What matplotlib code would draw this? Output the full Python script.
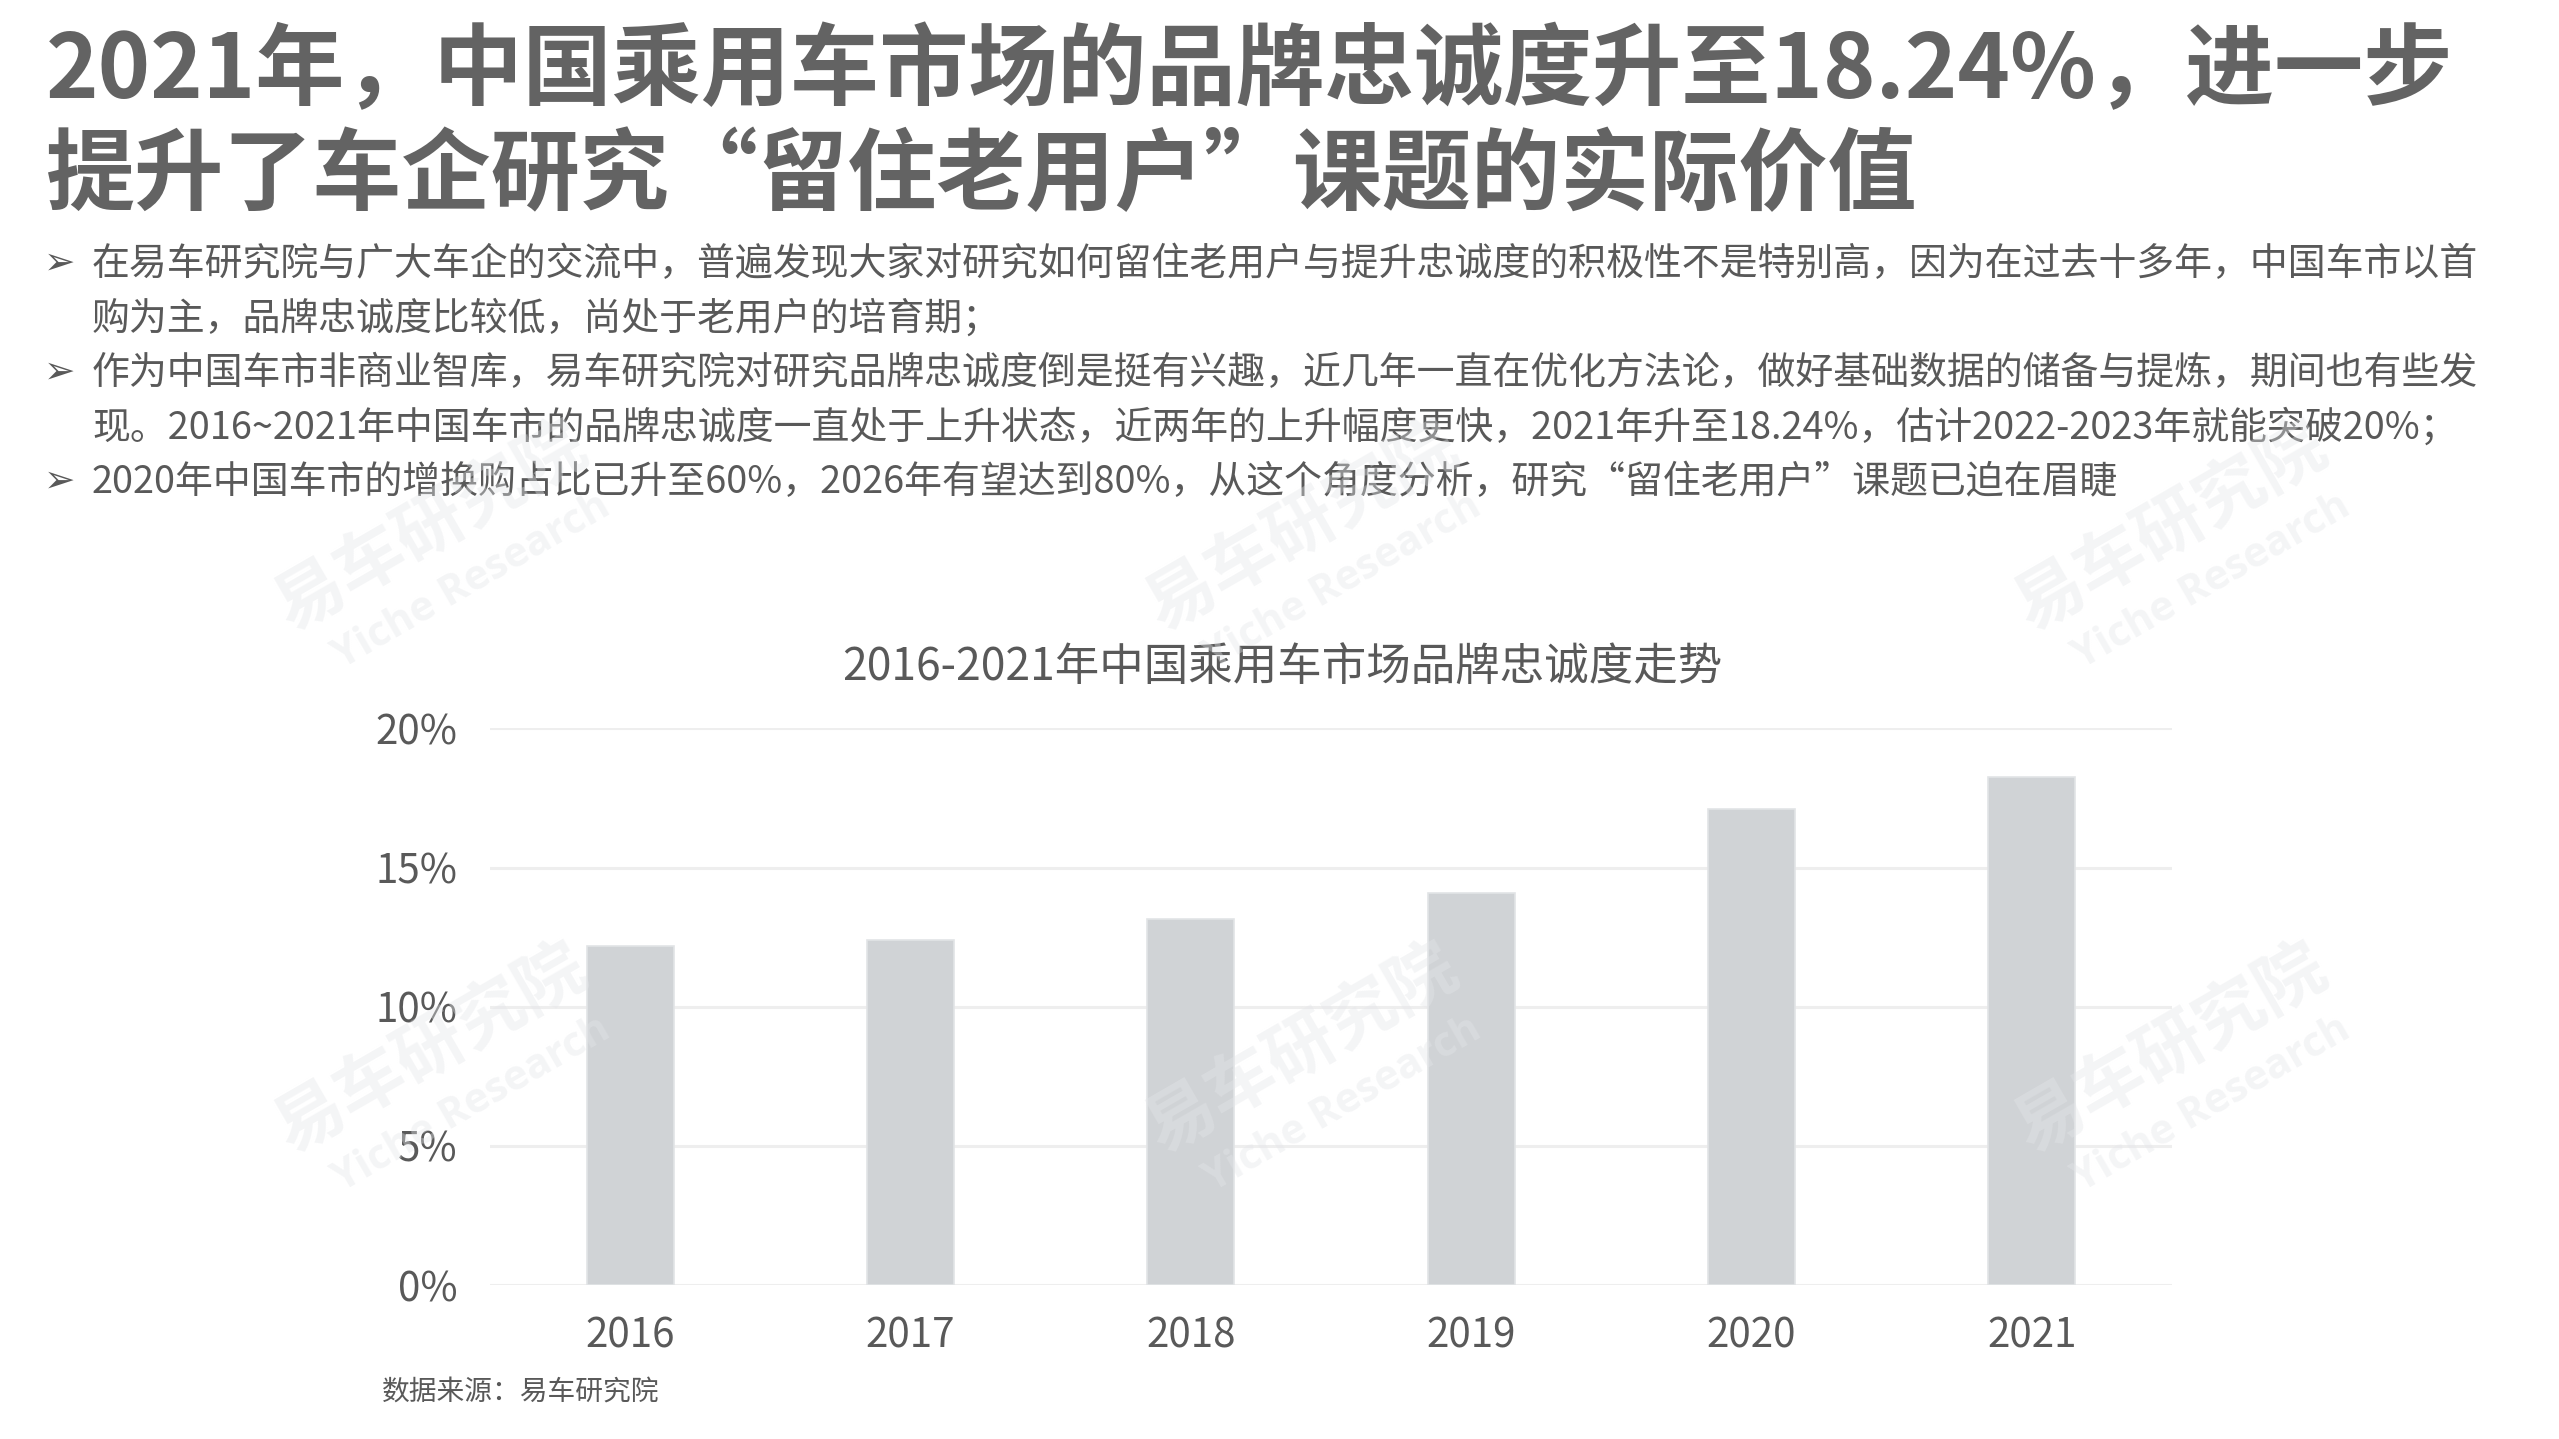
import matplotlib
matplotlib.use("Agg")
import matplotlib.pyplot as plt

plt.rcParams['font.family'] = ['Noto Sans CJK SC', 'DejaVu Sans']

# ---------------- data ----------------
years = ["2016", "2017", "2018", "2019", "2020", "2021"]
loyalty = [12.17, 12.4, 13.14, 14.1, 17.1, 18.24]
yticks = [0, 5, 10, 15, 20]
ytick_labels = ["0%", "5%", "10%", "15%", "20%"]

title_lines = [
    "2021年，中国乘用车市场的品牌忠诚度升至18.24%，进一步",
    "提升了车企研究“留住老用户”课题的实际价值",
]
bullet_lines = [
    (True, "在易车研究院与广大车企的交流中，普遍发现大家对研究如何留住老用户与提升忠诚度的积极性不是特别高，因为在过去十多年，中国车市以首"),
    (False, "购为主，品牌忠诚度比较低，尚处于老用户的培育期；"),
    (True, "作为中国车市非商业智库，易车研究院对研究品牌忠诚度倒是挺有兴趣，近几年一直在优化方法论，做好基础数据的储备与提炼，期间也有些发"),
    (False, "现。2016~2021年中国车市的品牌忠诚度一直处于上升状态，近两年的上升幅度更快，2021年升至18.24%，估计2022-2023年就能突破20%；"),
    (True, "2020年中国车市的增换购占比已升至60%，2026年有望达到80%，从这个角度分析，研究“留住老用户”课题已迫在眉睫"),
]
chart_title = "2016-2021年中国乘用车市场品牌忠诚度走势"
source = "数据来源：易车研究院"
wm_cn = "易车研究院"
wm_en = "Yiche Research"

# ---------------- figure ----------------
W, H = 2559, 1439
fig = plt.figure(figsize=(W / 100, H / 100), dpi=100)
fig.patch.set_facecolor("white")

def fx(px):
    return px / W

def fy(py):
    return 1 - py / H

text_gray = "#595959"

# Title
title_baselines = [98, 203]
for line, yb in zip(title_lines, title_baselines):
    fig.text(fx(46), fy(yb), line, fontsize=64.2, fontweight="bold",
             color="#636363", ha="left", va="baseline")

# Bullets
for i, (has_arrow, line) in enumerate(bullet_lines):
    yb = 275 + i * 54.5
    if has_arrow:
        fig.text(fx(44), fy(yb - 1), "➢", fontsize=27, color=text_gray,
                 family="DejaVu Sans", ha="left", va="baseline")
    fig.text(fx(92), fy(yb), line, fontsize=27.3, color=text_gray,
             ha="left", va="baseline")

# Chart title
fig.text(fx(1282), fy(668), chart_title, fontsize=32, color=text_gray,
         ha="center", va="center")

# Source
fig.text(fx(382), fy(1392), source, fontsize=20, color=text_gray,
         ha="left", va="center")

# ---------------- axes ----------------
ax_left, ax_right = 490, 2172
ax_top, ax_bottom = 728.5, 1285
ax = fig.add_axes([fx(ax_left), fy(ax_bottom), (ax_right - ax_left) / W,
                   (ax_bottom - ax_top) / H])
ax.set_facecolor("none")
x = list(range(len(years)))
ax.bar(x, loyalty, width=0.31, color="#d0d3d6", edgecolor="#e2e4e6",
       linewidth=1.2, zorder=2)
ax.set_xlim(-0.5, 5.5)
ax.set_ylim(0, 20)
ax.set_yticks(yticks)
ax.set_yticklabels(ytick_labels)
ax.set_xticks(x)
ax.set_xticklabels(years)
ax.grid(axis="y", color="#eeeeee", linewidth=2.2, zorder=0)
ax.set_axisbelow(True)
for s in ax.spines.values():
    s.set_visible(False)
ax.tick_params(axis="both", length=0, labelsize=29, labelcolor=text_gray)
ax.tick_params(axis="y", pad=23.5)
ax.tick_params(axis="x", pad=22)

# ---------------- watermarks ----------------
cols = [432, 1303, 2172]
rows_cn = [528, 1050]
rows_en = [582, 1105]
for cx in cols:
    for rc, re_ in zip(rows_cn, rows_en):
        fig.text(fx(cx), fy(rc), wm_cn, fontsize=50, fontweight="bold",
                 color="#e4e6e9", alpha=0.4, rotation=30,
                 ha="center", va="center", zorder=5)
        fig.text(fx(cx + 40), fy(re_), wm_en, fontsize=30, fontweight="bold",
                 family="Open Sans", color="#e4e6e9", alpha=0.4, rotation=30,
                 ha="center", va="center", zorder=5)

fig.savefig("out.png", dpi=100, facecolor="white")
